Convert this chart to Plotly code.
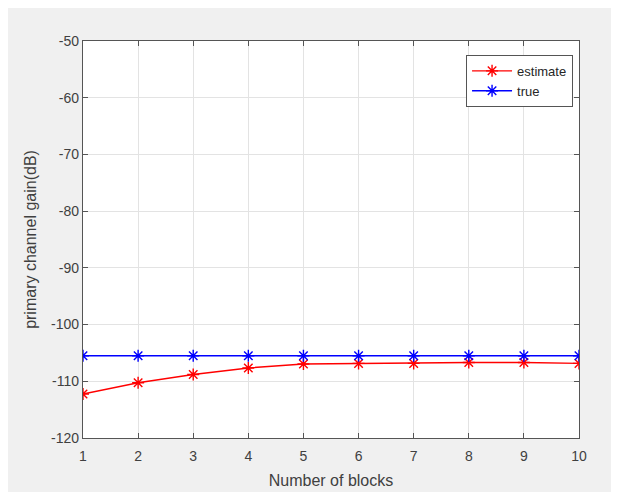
import plotly.graph_objects as go

blocks = [1, 2, 3, 4, 5, 6, 7, 8, 9, 10]
estimate = [-112.25, -110.25, -108.8, -107.65, -106.95, -106.85, -106.85, -106.7, -106.7, -106.85]
true_gain = [-105.5] * 10

x_ticks = [1, 2, 3, 4, 5, 6, 7, 8, 9, 10]
y_ticks = [-120, -110, -100, -90, -80, -70, -60, -50]
y_tick_labels = ["-120", "-110", "-100", "-90", "-80", "-70", "-60", "-50"]

fig = go.Figure()
fig.add_trace(go.Scatter(
    x=blocks, y=estimate, name="estimate", mode="lines+markers",
    line=dict(color="#ff0000", width=1.4),
    marker=dict(symbol="asterisk-open", size=10, color="#ff0000",
                line=dict(color="#ff0000", width=1.4)),
))
fig.add_trace(go.Scatter(
    x=blocks, y=true_gain, name="true", mode="lines+markers",
    line=dict(color="#0000ff", width=1.4),
    marker=dict(symbol="asterisk-open", size=10, color="#0000ff",
                line=dict(color="#0000ff", width=1.4)),
))

axis_common = dict(
    showline=True, linecolor="#555555", linewidth=1.3, mirror="ticks",
    ticks="inside", ticklen=5, tickcolor="#555555", tickwidth=1,
    showgrid=True, gridcolor="#e3e3e3", gridwidth=1,
    zeroline=False, automargin=False,
    tickfont=dict(family="Liberation Sans, Arial", size=14, color="#404040"),
)

fig.update_xaxes(range=[1, 10], tickvals=x_ticks, ticklabelstandoff=5,
                 title=dict(text="Number of blocks", standoff=11,
                            font=dict(family="Liberation Sans, Arial", size=16, color="#404040")),
                 **axis_common)
fig.update_yaxes(range=[-120, -50], tickvals=y_ticks, ticktext=y_tick_labels,
                 title=dict(text="primary channel gain(dB)", standoff=10,
                            font=dict(family="Liberation Sans, Arial", size=16, color="#404040")),
                 **axis_common)

fig.update_layout(
    width=611, height=484,
    margin=dict(l=75, r=40, t=33, b=54, autoexpand=False),
    paper_bgcolor="#f0f0f0", plot_bgcolor="#ffffff",
    showlegend=True,
    legend=dict(x=0.988, y=0.965, xanchor="right", yanchor="top",
                bgcolor="#ffffff", bordercolor="#555555", borderwidth=1,
                font=dict(family="Liberation Sans, Arial", size=13, color="#262626"),
                itemwidth=40, tracegroupgap=2),
)

fig.write_html("out.html")
